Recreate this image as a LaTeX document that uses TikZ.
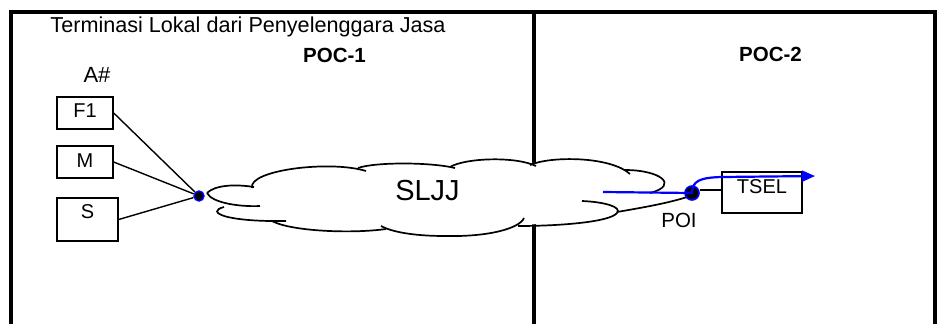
\documentclass[tikz,border=0pt]{standalone}
\usepackage{fontspec}
\setsansfont{Liberation Sans}
\usetikzlibrary{arrows.meta}

\begin{document}
\begin{tikzpicture}[x=1pt,y=-1pt,font=\sffamily,line width=1.4pt,
  box/.style={draw,rectangle,inner xsep=0pt,inner ysep=0pt,anchor=base,font=\sffamily\fontsize{20}{22}\selectfont},
  lbl/.style={anchor=base,font=\sffamily\fontsize{20.5}{22}\selectfont},
  poc/.style={anchor=base,font=\sffamily\bfseries\fontsize{20.5}{22}\selectfont},
  dot/.style={circle,fill=black,draw=blue,inner sep=0pt},
  frame/.style={line width=4pt},
  lobe/.style={line width=1.7pt},
  flow/.style={blue,line width=2.2pt,-{Triangle[length=13pt,width=11pt]}}]
\useasboundingbox (0,0) rectangle (937,324);

%frame
\draw[frame] (11,324) -- (11,11.5) -- (935,11.5) -- (935,324);
\draw[frame] (534,11.5) -- (534,324); %divider

%labels
\node[lbl,font=\sffamily\fontsize{21.6}{23}\selectfont] (title) at (248,32) {Terminasi Lokal dari Penyelenggara Jasa};
\node[poc] (poc1) at (334.5,62) {POC-1};
\node[poc] (poc2) at (770.5,61) {POC-2};
\node[lbl,font=\sffamily\fontsize{22}{23}\selectfont] (anum) at (97,82) {A\#};

%cloud
\fill[white] plot[smooth cycle] coordinates {(207,193) (230,185) (254,186) (262,173) (310,166) (364,168) (405,163) (452,165) (493,160) (534,163) (578,160) (627,171) (664,180) (688,195) (617,212) (570,223) (522,225) (445,235) (383,228) (330,231) (285,222) (232,218) (218,212) (212,200)};
\draw[lobe] (207,193) .. controls (215,185) and (235,184) .. (254,187); %A
\draw[lobe] (252,188) .. controls (248,170) and (330,160) .. (366,171); %B
\draw[lobe] (358,168) .. controls (375,162) and (430,162) .. (455,168); %C
\draw[lobe] (450,167) .. controls (465,158) and (515,156) .. (536,166); %D
\draw[lobe] (530,165) .. controls (550,156) and (610,156) .. (630,174); %E
\draw[lobe] (625,170) .. controls (660,170) and (680,185) .. (650,193); %F
\draw[lobe] (690,196) .. controls (670,203) and (640,208) .. (617,212); %tip
\draw[lobe] (582,201) .. controls (605,202) and (622,207) .. (617,213)
  .. controls (610,222) and (560,226) .. (518,226); %G
\draw[lobe] (524,218) .. controls (520,228) and (490,237) .. (445,236)
  .. controls (410,236) and (390,231) .. (381,226); %H
\draw[lobe] (386,229) .. controls (350,234) and (290,231) .. (272,221); %I
\draw[lobe] (224,207) .. controls (205,212) and (225,222) .. (286,221); %J
\draw[lobe] (207,193) .. controls (212,203) and (240,207) .. (260,206); %K
\node[anchor=base,font=\sffamily\fontsize{29}{30}\selectfont] (sljj) at (427.5,200) {SLJJ};

%terminals
\node[box,minimum width=56pt,text height=20pt,text depth=12pt] (f1) at (85,117) {F1};
\node[box,minimum width=56pt,text height=21pt,text depth=11pt] (m) at (85,167) {M};
\node[box,minimum width=61pt,text height=20pt,text depth=23pt] (s) at (87.5,218) {S};
\node[box,minimum width=80pt,text height=21pt,text depth=20pt] (tsel) at (762,193) {TSEL};

%connections
\node[dot,minimum size=10pt] (join) at (199,196) {};
\draw (f1.east) -- (join);
\draw (m.east) -- (join);
\draw (s.east) -- (join);

\coordinate (flowin) at (603,192);
\coordinate (flowout) at (815,176);
\coordinate (tap) at (700,190);
\draw (tap) -- (tap -| tsel.west);
\node[dot,minimum size=14pt,line width=1.6pt] (poi) at (692,193) {};
\draw[flow] (flowin) -- (poi.center) .. controls (692,181) and (700,177.5) .. (722,177) -- (flowout);
\node[lbl] (poilbl) at (679,227) {POI};
\end{tikzpicture}
\end{document}
